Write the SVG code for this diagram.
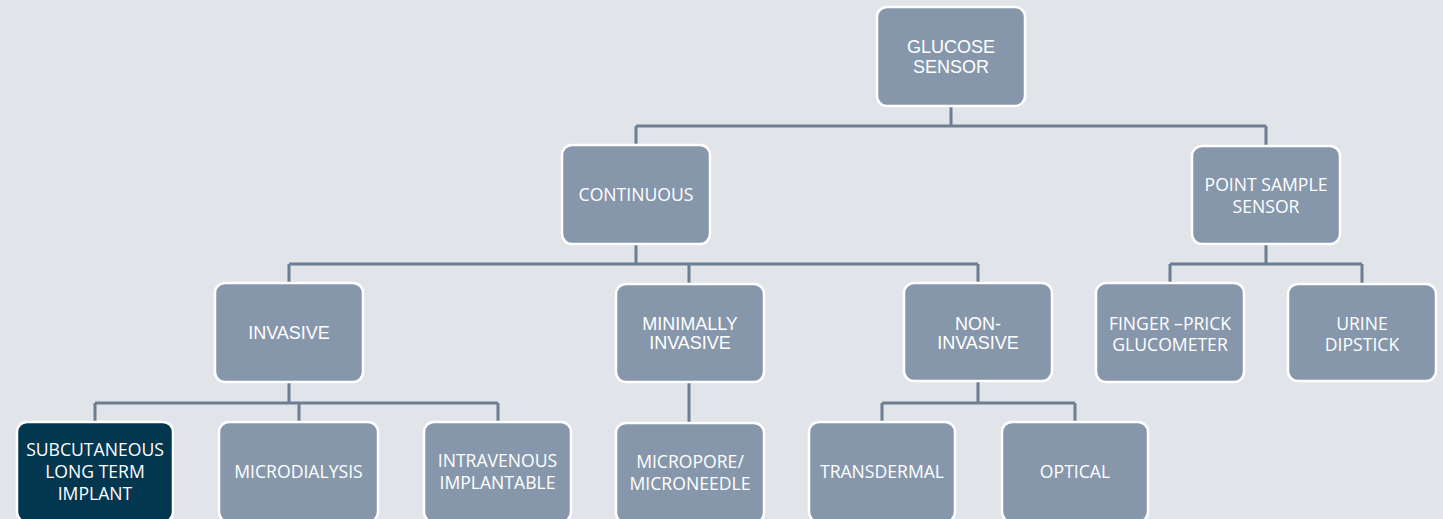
<svg xmlns="http://www.w3.org/2000/svg" width="1443" height="519" viewBox="0 0 1443 519">
<style>
.bg{fill:#e1e4e8}
.box{fill:#8797ab;stroke:#ffffff;stroke-width:2.5}
.dark{fill:#02374f;stroke:#ffffff;stroke-width:2.5}
.con{fill:none;stroke:#6e7e92;stroke-width:3}
.a{font-family:"Liberation Sans",Arial,sans-serif;font-size:18px;fill:#ffffff;text-anchor:middle}
.s{font-family:"Open Sans","Noto Sans",sans-serif;font-size:17.6px;fill:#ffffff;text-anchor:middle}
</style>
<rect class="bg" x="0" y="0" width="1443" height="519"/>
<g id="connectors">
<path class="con" d="M951,106V126M636,126H1266M636,126V145M1266,126V146"/>
<path class="con" d="M636,244V264M289,264H978M289,264V283M689,264V284M978,264V283"/>
<path class="con" d="M1266,244V264M1170,264H1362M1170,264V283M1362,264V284"/>
<path class="con" d="M289,382V403M95,403H498M95,403V422M299,403V422M498,403V422"/>
<path class="con" d="M689,382V423"/>
<path class="con" d="M978,381V403M882,403H1075M882,403V422M1075,403V422"/>
</g>
<g id="glucose-sensor"><rect class="box" x="877" y="7" width="148" height="99" rx="10"/><text class="a" x="951" y="53">GLUCOSE</text><text class="a" x="951" y="72.5">SENSOR</text></g>
<g id="continuous"><rect class="box" x="562" y="145" width="148" height="99" rx="10"/><text class="s" x="636" y="201">CONTINUOUS</text></g>
<g id="point-sample-sensor"><rect class="box" x="1192" y="146" width="148" height="98" rx="10"/><text class="s" x="1266" y="191">POINT SAMPLE</text><text class="s" x="1266" y="212.5">SENSOR</text></g>
<g id="invasive"><rect class="box" x="215" y="283" width="148" height="99" rx="10"/><text class="a" x="289" y="339">INVASIVE</text></g>
<g id="minimally-invasive"><rect class="box" x="616" y="284" width="148" height="98" rx="10"/><text class="a" x="690" y="330">MINIMALLY</text><text class="a" x="690" y="349">INVASIVE</text></g>
<g id="non-invasive"><rect class="box" x="904" y="283" width="148" height="98" rx="10"/><text class="a" x="978" y="330">NON-</text><text class="a" x="978" y="349">INVASIVE</text></g>
<g id="finger-prick"><rect class="box" x="1096" y="283" width="148" height="99" rx="10"/><text class="s" x="1170" y="329.5">FINGER –PRICK</text><text class="s" x="1170" y="351">GLUCOMETER</text></g>
<g id="urine-dipstick"><rect class="box" x="1288" y="284" width="148" height="97" rx="10"/><text class="s" x="1362" y="329.5">URINE</text><text class="s" x="1362" y="351">DIPSTICK</text></g>
<g id="subcutaneous"><rect class="dark" x="17" y="422" width="156" height="100" rx="10"/><text class="s" x="95" y="455.5">SUBCUTANEOUS</text><text class="s" x="95" y="477.5">LONG TERM</text><text class="s" x="95" y="499.5">IMPLANT</text></g>
<g id="microdialysis"><rect class="box" x="219" y="422" width="159" height="100" rx="10"/><text class="s" x="298.5" y="477.5">MICRODIALYSIS</text></g>
<g id="intravenous"><rect class="box" x="424" y="422" width="147" height="100" rx="10"/><text class="s" x="497.5" y="467">INTRAVENOUS</text><text class="s" x="497.5" y="488.5">IMPLANTABLE</text></g>
<g id="micropore"><rect class="box" x="616" y="423" width="148" height="100" rx="10"/><text class="s" x="690" y="468">MICROPORE/</text><text class="s" x="690" y="489.5">MICRONEEDLE</text></g>
<g id="transdermal"><rect class="box" x="809" y="422" width="146" height="100" rx="10"/><text class="s" x="882" y="477.5">TRANSDERMAL</text></g>
<g id="optical"><rect class="box" x="1002" y="422" width="146" height="100" rx="10"/><text class="s" x="1075" y="477.5">OPTICAL</text></g>
</svg>
